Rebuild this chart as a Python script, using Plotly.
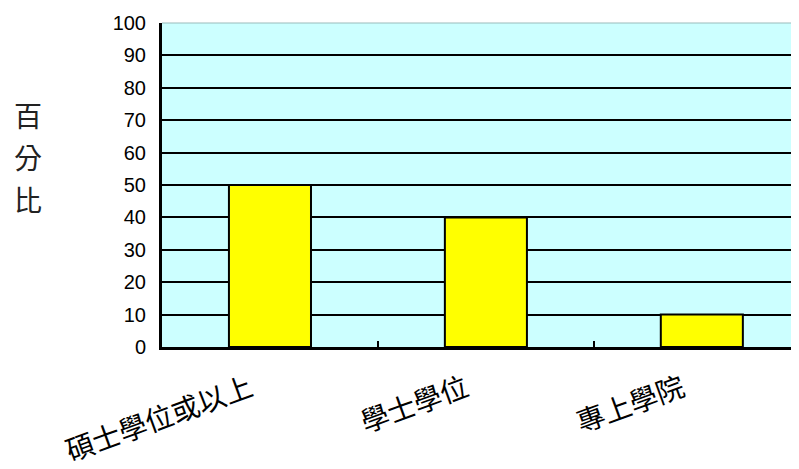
import plotly.graph_objects as go

categories = ["碩士學位或以上", "學士學位", "專上學院"]
values = [50, 40, 10]
y_ticks = [0, 10, 20, 30, 40, 50, 60, 70, 80, 90, 100]
y_title_chars = ["百", "分", "比"]

fig = go.Figure()
fig.add_trace(go.Bar(
    x=categories, y=values, width=0.38,
    marker=dict(color="#FFFF00", line=dict(color="black", width=2)),
))

fig.update_layout(
    width=791, height=461,
    margin=dict(l=154, r=0, t=15, b=122, autoexpand=False),
    plot_bgcolor="#CCFFFF", paper_bgcolor="white",
    showlegend=False,
    font=dict(family="Liberation Sans, Arial", color="black"),
)
fig.update_xaxes(
    type="category", range=[-0.5, 2.45], automargin=False,
    showline=True, linecolor="black", linewidth=3,
    ticks="inside", tickson="boundaries", ticklen=6, tickwidth=2, tickcolor="black",
    showgrid=False, tickangle=-20,
    ticklabelshift=-20, ticklabelstandoff=12,
    tickfont=dict(family="Noto Sans CJK TC", size=28, color="black"),
)
fig.update_yaxes(
    range=[0, 100], tickvals=y_ticks, automargin=False,
    showline=True, linecolor="black", linewidth=3,
    ticks="inside", ticklen=6, tickwidth=2, tickcolor="black",
    showgrid=True, gridcolor="black", gridwidth=2,
    zeroline=False, ticklabelstandoff=9,
    tickfont=dict(family="Liberation Sans, Arial", size=20, color="black"),
)
fig.add_shape(type="line", xref="paper", yref="paper", x0=0, x1=1, y0=1, y1=1,
              line=dict(color="#99BBBB", width=1))

for i, ch in enumerate(y_title_chars):
    fig.add_annotation(text=ch, xref="paper", yref="paper",
                       x=(28 - 162) / 637, y=(347 - (115 + 42 * i)) / 324,
                       xanchor="center", yanchor="middle", showarrow=False,
                       font=dict(family="Noto Sans CJK TC", size=28, color="#222222"))

fig.write_html("out.html")
